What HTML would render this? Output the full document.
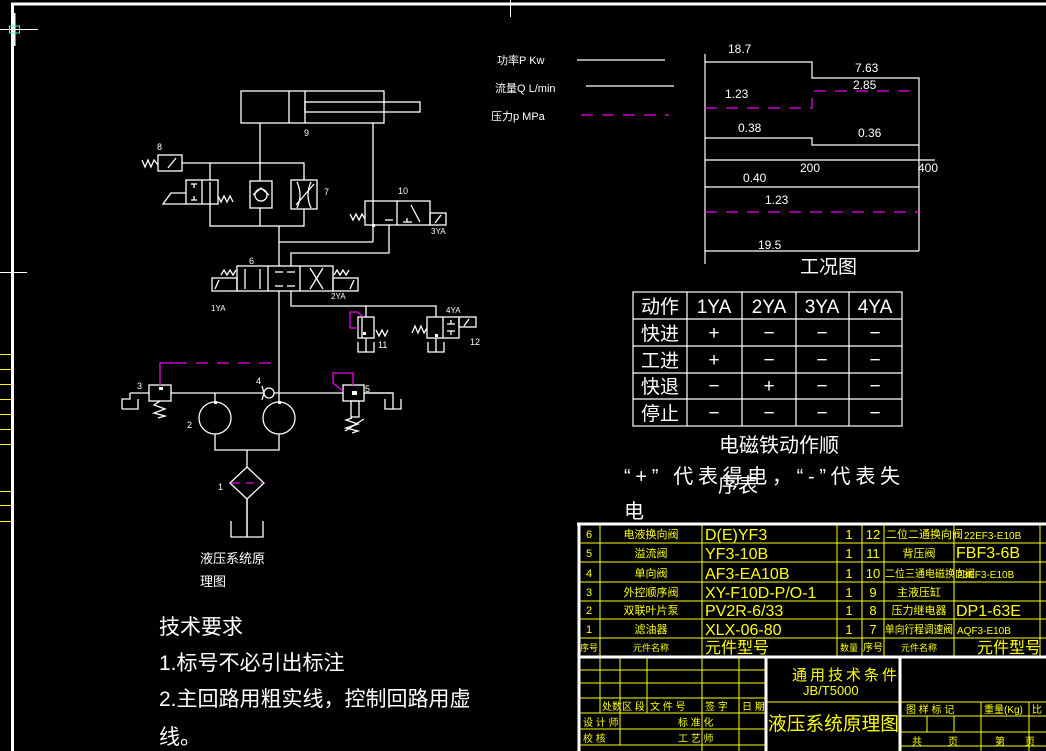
<!DOCTYPE html>
<html><head><meta charset="utf-8"><style>
html,body{margin:0;padding:0;background:#000;}
svg{display:block}
text{font-family:"Liberation Sans","Noto Sans CJK SC",sans-serif;}
</style></head><body>
<svg width="1046" height="751" viewBox="0 0 1046 751" xmlns="http://www.w3.org/2000/svg">
<rect width="1046" height="751" fill="#000"/>
<g stroke="#fff" fill="none">
<line x1="11" y1="4" x2="1046" y2="4" stroke-width="3"/>
<line x1="12.5" y1="3" x2="12.5" y2="751" stroke-width="3"/>
<line x1="14.5" y1="13" x2="14.5" y2="46" stroke-width="2"/>
<line x1="0" y1="29.5" x2="38" y2="29.5" stroke-width="1"/>
<line x1="0" y1="272.5" x2="27" y2="272.5" stroke-width="1"/>
<line x1="510.5" y1="0" x2="510.5" y2="17" stroke-width="1"/>
</g>
<rect x="9.5" y="26" width="10" height="7" fill="none" stroke="#3f9" stroke-width="1"/>
<g stroke="#ff0" stroke-width="1">
<line x1="0" y1="354.5" x2="11" y2="354.5"/><line x1="0" y1="369.5" x2="11" y2="369.5"/>
<line x1="0" y1="384.5" x2="11" y2="384.5"/><line x1="0" y1="399.5" x2="11" y2="399.5"/>
<line x1="0" y1="414.5" x2="11" y2="414.5"/><line x1="0" y1="429.5" x2="11" y2="429.5"/>
<line x1="0" y1="444.5" x2="11" y2="444.5"/><line x1="0" y1="491.5" x2="11" y2="491.5"/>
<line x1="0" y1="505.5" x2="11" y2="505.5"/><line x1="0" y1="521.5" x2="11" y2="521.5"/>
</g>

<g stroke="#fff" stroke-width="1.3" fill="none">
<rect x="241" y="91" width="143" height="32"/>
<line x1="289" y1="91" x2="289" y2="123"/><line x1="305" y1="91" x2="305" y2="123"/>
<rect x="305" y="102" width="115" height="10"/>
<line x1="260" y1="123" x2="260" y2="163"/>
<line x1="373" y1="123" x2="373" y2="242"/>
<rect x="210" y="163" width="94" height="63"/>
<line x1="260" y1="163" x2="260" y2="226"/>
<rect x="250" y="181" width="22" height="27" fill="#000"/>
<circle cx="261" cy="195" r="6"/>
<polyline points="253,195 261,188 269,195"/>
<rect x="291" y="180" width="26" height="29" fill="#000"/>
<path d="M297 182 Q303 195 297 208 M311 182 Q305 195 311 208 M296 205 L314 184"/>
<rect x="158" y="155" width="24" height="16"/>
<line x1="182" y1="163" x2="210" y2="163"/>
<line x1="168" y1="168" x2="176" y2="158"/>
<polyline points="142,160 145,167 148,160 151,167 154,160 158,165"/>
<rect x="186" y="180" width="32" height="24" fill="#000"/>
<line x1="202" y1="180" x2="202" y2="204"/>
<line x1="210" y1="182" x2="210" y2="204"/>
<line x1="194" y1="184" x2="194" y2="188"/><line x1="191" y1="184" x2="197" y2="184"/>
<line x1="194" y1="196" x2="194" y2="200"/><line x1="191" y1="200" x2="197" y2="200"/>
<polyline points="186,193 171,193 163,204 186,204"/>
<polyline points="218,196 221,202 224,196 227,202 230,196 233,202"/>
<line x1="279" y1="226" x2="279" y2="266"/>
<line x1="279" y1="242" x2="373" y2="242"/>
<polyline points="389,225 389,253 291,253 291,266"/>
<rect x="365" y="201" width="65" height="24"/>
<line x1="397" y1="201" x2="397" y2="225"/>
<rect x="430" y="213" width="16" height="12"/>
<line x1="435" y1="223" x2="441" y2="215"/>
<line x1="385" y1="220" x2="393" y2="220"/>
<line x1="403" y1="222" x2="412" y2="222"/><line x1="407" y1="218" x2="407" y2="222"/>
<line x1="411" y1="205" x2="420" y2="222"/>
<polyline points="350,214 353,220 356,214 359,220 362,214 365,219"/>
<rect x="237" y="266" width="96" height="25"/>
<line x1="268" y1="266" x2="268" y2="291"/><line x1="300" y1="266" x2="300" y2="291"/>
<rect x="212" y="278" width="25" height="13"/><rect x="333" y="278" width="25" height="13"/>
<line x1="245" y1="269" x2="245" y2="289"/><line x1="260" y1="269" x2="260" y2="289"/>
<line x1="275" y1="272" x2="283" y2="272"/><line x1="287" y1="272" x2="295" y2="272"/>
<line x1="275" y1="286" x2="283" y2="286"/><line x1="287" y1="286" x2="295" y2="286"/>
<line x1="310" y1="268" x2="323" y2="289"/><line x1="323" y1="268" x2="310" y2="289"/>
<line x1="215" y1="289" x2="219" y2="280"/><line x1="350" y1="289" x2="354" y2="280"/>
<polyline points="221,275 224,270 227,275 230,270 233,275 236,270"/>
<polyline points="334,275 337,270 340,275 343,270 346,275 349,270"/>
<line x1="279" y1="291" x2="279" y2="402"/>
<polyline points="291,291 291,306 436,306 436,317"/>
<line x1="366" y1="306" x2="366" y2="317"/>
<rect x="358" y="317" width="16" height="21"/>
<line x1="362" y1="317" x2="362" y2="338"/>
<polyline points="376,330 379,336 382,330 385,336 388,330"/>
<line x1="366" y1="338" x2="366" y2="352"/>
<polyline points="358,342 358,352 374,352 374,342"/>
<rect x="427" y="317" width="32" height="21"/>
<line x1="443" y1="317" x2="443" y2="338"/>
<line x1="451" y1="320" x2="451" y2="324"/><line x1="447" y1="324" x2="455" y2="324"/>
<line x1="451" y1="331" x2="451" y2="335"/><line x1="447" y1="331" x2="455" y2="331"/>
<rect x="459" y="317" width="17" height="10"/>
<line x1="464" y1="326" x2="469" y2="319"/>
<polyline points="412,333 415,326 418,333 421,326 424,333 427,328"/>
<line x1="436" y1="338" x2="436" y2="352"/>
<polyline points="428,342 428,352 444,352 444,342"/>
<line x1="130" y1="393" x2="393" y2="393"/>
<polyline points="122,409 122,399 130,399 130,393"/>
<polyline points="122,409 138,409 138,399"/>
<rect x="149" y="385" width="22" height="16" fill="#000"/>
<polyline points="160,401 154,405 165,409 154,413 165,416 158,418"/>
<line x1="215" y1="393" x2="215" y2="402"/>
<circle cx="215" cy="418" r="16"/>
<circle cx="279" cy="418" r="16"/>
<polyline points="215,434 215,450 279,450 279,434"/>
<line x1="247" y1="450" x2="247" y2="537"/>
<polygon points="247,467 264,483 247,499 230,483" fill="#000"/>
<polyline points="231,521 231,537 263,537 263,521"/>
<line x1="247" y1="499" x2="247" y2="537"/>
<circle cx="269" cy="393" r="5" fill="#000"/>
<polyline points="262,386 264,393 262,400"/>
<rect x="343" y="385" width="21" height="16" fill="#000"/>
<polyline points="364,393 393,393 393,409"/>
<polyline points="385,399 385,409 401,409 401,399"/>
<rect x="351" y="401" width="8" height="16"/>
<polyline points="352,418 346,420 358,424 346,428 358,431 352,433"/>
<line x1="345" y1="431" x2="364" y2="419"/>
</g>
<g fill="#fff">
<rect x="159" y="387" width="4" height="3"/><rect x="352" y="391" width="5" height="4"/>
<rect x="214" y="401" width="3" height="3"/><rect x="278" y="401" width="3" height="3"/>
<rect x="372" y="224" width="3" height="3"/><rect x="435" y="334" width="3" height="3"/>
<rect x="363" y="332" width="3" height="3"/>
</g>
<g stroke="#e0e" stroke-width="1.3" fill="none">
<polyline points="160,385 160,363 175,363"/>
<line x1="175" y1="363" x2="280" y2="363" stroke-dasharray="12,9"/>
<polyline points="343,391 333,383 333,373 353,373 353,385"/>
<polyline points="358,328 350,328 350,312 358,312 363,317"/>
<line x1="232" y1="483" x2="262" y2="483" stroke-dasharray="8,6"/>
</g>
<g fill="#fff" font-size="9">
<text x="304" y="136">9</text><text x="157" y="150">8</text><text x="324" y="195">7</text>
<text x="398" y="194">10</text><text x="431" y="234" font-size="8">3YA</text>
<text x="249" y="264">6</text><text x="211" y="311" font-size="8">1YA</text>
<text x="331" y="299" font-size="8">2YA</text>
<text x="378" y="348">11</text><text x="446" y="313" font-size="8">4YA</text><text x="470" y="345">12</text>
<text x="137" y="389">3</text><text x="256" y="384">4</text><text x="365" y="392">5</text>
<text x="187" y="428">2</text><text x="218" y="490">1</text>
<text x="200" y="563" font-size="13">液压系统原</text>
<text x="200" y="586" font-size="13">理图</text>
</g>
<g fill="#fff" font-size="21">
<text x="159" y="634">技术要求</text>
<text x="159" y="670">1.标号不必引出标注</text>
<text x="159" y="706">2.主回路用粗实线，控制回路用虚</text>
<text x="159" y="744">线。</text>
</g>

<g fill="#fff" font-size="12">
<text x="497" y="64" font-size="11">功率P  Kw</text>
<text x="495" y="92" font-size="11">流量Q  L/min</text>
<text x="491" y="120" font-size="11">压力p  MPa</text>
<text x="728" y="53">18.7</text><text x="855" y="72">7.63</text><text x="853" y="89">2.85</text>
<text x="725" y="98">1.23</text><text x="738" y="132">0.38</text><text x="858" y="137">0.36</text>
<text x="800" y="172">200</text><text x="918" y="172">400</text>
<text x="743" y="182">0.40</text><text x="765" y="204">1.23</text><text x="758" y="249">19.5</text>
<text x="800" y="273" font-size="19">工况图</text>
</g>
<g stroke="#fff" stroke-width="1.2" fill="none">
<line x1="577" y1="60" x2="665" y2="60"/>
<line x1="586" y1="86" x2="674" y2="86"/>
<line x1="705" y1="54" x2="705" y2="264"/>
<polyline points="705,62 812,62 812,78 919,78 919,251"/>
<polyline points="705,138 812,138 812,145 919,145"/>
<line x1="705" y1="160" x2="935" y2="160"/>
<line x1="705" y1="187" x2="919" y2="187"/>
<line x1="705" y1="251" x2="919" y2="251"/>
</g>
<g stroke="#e0e" stroke-width="1.3" fill="none" stroke-dasharray="12,9">
<line x1="581" y1="115" x2="669" y2="115"/>
<polyline points="705,108 812,108 812,91 919,91"/>
<line x1="705" y1="212" x2="919" y2="212"/>
</g>

<g stroke="#fff" stroke-width="1.2" fill="none">
<rect x="633" y="292" width="269" height="134"/>
<line x1="687" y1="292" x2="687" y2="426"/><line x1="742" y1="292" x2="742" y2="426"/>
<line x1="796" y1="292" x2="796" y2="426"/><line x1="849" y1="292" x2="849" y2="426"/>
<line x1="633" y1="319" x2="902" y2="319"/><line x1="633" y1="346" x2="902" y2="346"/>
<line x1="633" y1="373" x2="902" y2="373"/><line x1="633" y1="399" x2="902" y2="399"/>
</g>
<g fill="#fff" font-size="19" text-anchor="middle">
<text x="660" y="313">动作</text><text x="714" y="313">1YA</text><text x="769" y="313">2YA</text><text x="822" y="313">3YA</text><text x="875" y="313">4YA</text>
<text x="660" y="340">快进</text><text x="714" y="339">+</text><text x="769" y="339">−</text><text x="822" y="339">−</text><text x="875" y="339">−</text>
<text x="660" y="367">工进</text><text x="714" y="366">+</text><text x="769" y="366">−</text><text x="822" y="366">−</text><text x="875" y="366">−</text>
<text x="660" y="393">快退</text><text x="714" y="392">−</text><text x="769" y="392">+</text><text x="822" y="392">−</text><text x="875" y="392">−</text>
<text x="660" y="420">停止</text><text x="714" y="419">−</text><text x="769" y="419">−</text><text x="822" y="419">−</text><text x="875" y="419">−</text>
</g>
<g fill="#fff" font-size="20">
<text x="719" y="452">电磁铁动作顺</text>
<text x="624" y="483" textLength="276" lengthAdjust="spacing">“+” 代表得电，“-”代表失</text>
<text x="718" y="492">序表</text>
<text x="624" y="518">电</text>
</g>

<g stroke="#ff0" stroke-width="1" fill="none">
<line x1="579" y1="543" x2="1046" y2="543"/><line x1="579" y1="562" x2="1046" y2="562"/>
<line x1="579" y1="582" x2="1046" y2="582"/><line x1="579" y1="601" x2="1046" y2="601"/>
<line x1="579" y1="619" x2="1046" y2="619"/><line x1="579" y1="638" x2="1046" y2="638"/>
<line x1="600" y1="524" x2="600" y2="656"/><line x1="702" y1="524" x2="702" y2="656"/>
<line x1="837" y1="524" x2="837" y2="656"/><line x1="862" y1="524" x2="862" y2="656"/>
<line x1="884" y1="524" x2="884" y2="656"/><line x1="954" y1="524" x2="954" y2="656"/>
<line x1="1040" y1="524" x2="1040" y2="656"/>
<line x1="579" y1="670" x2="766" y2="670"/><line x1="579" y1="683" x2="766" y2="683"/>
<line x1="579" y1="698" x2="766" y2="698"/><line x1="579" y1="713" x2="766" y2="713"/>
<line x1="579" y1="729" x2="766" y2="729"/><line x1="579" y1="745" x2="766" y2="745"/>
<line x1="600" y1="656" x2="600" y2="713"/><line x1="620" y1="656" x2="620" y2="745"/>
<line x1="647" y1="656" x2="647" y2="713"/><line x1="702" y1="656" x2="702" y2="751"/>
<line x1="739" y1="656" x2="739" y2="751"/>
<line x1="766" y1="702" x2="900" y2="702"/>
<line x1="900" y1="702" x2="1046" y2="702"/><line x1="900" y1="716" x2="1046" y2="716"/>
<line x1="900" y1="732" x2="1046" y2="732"/><line x1="900" y1="746" x2="1046" y2="746"/>
<line x1="927" y1="716" x2="927" y2="732"/><line x1="954" y1="716" x2="954" y2="732"/>
<line x1="981" y1="702" x2="981" y2="751"/><line x1="1029" y1="702" x2="1029" y2="751"/>
</g>
<g stroke="#fff" stroke-width="3" fill="none">
<line x1="577" y1="524" x2="1046" y2="524"/>
<line x1="579" y1="524" x2="579" y2="751"/>
<line x1="579" y1="657" x2="1046" y2="657"/>
<line x1="766" y1="657" x2="766" y2="751"/>
<line x1="900" y1="657" x2="900" y2="751"/>
</g>
<g fill="#ff0" font-size="11">
<g text-anchor="middle">
<text x="589" y="538">6</text><text x="589" y="557">5</text><text x="589" y="577">4</text><text x="589" y="596">3</text><text x="589" y="614">2</text><text x="589" y="633">1</text>
<text x="589" y="651" font-size="9">序号</text>
<text x="651" y="538">电液换向阀</text><text x="651" y="557">溢流阀</text><text x="651" y="577">单向阀</text><text x="651" y="596">外控顺序阀</text><text x="651" y="614">双联叶片泵</text><text x="651" y="633">滤油器</text>
<text x="651" y="651" font-size="9">元件名称</text>
<text x="849" y="539" font-size="13">1</text><text x="849" y="558" font-size="13">1</text><text x="849" y="578" font-size="13">1</text><text x="849" y="597" font-size="13">1</text><text x="849" y="615" font-size="13">1</text><text x="849" y="634" font-size="13">1</text>
<text x="849" y="651" font-size="9">数量</text>
<text x="873" y="539" font-size="13">12</text><text x="873" y="558" font-size="13">11</text><text x="873" y="578" font-size="13">10</text><text x="873" y="597" font-size="13">9</text><text x="873" y="615" font-size="13">8</text><text x="873" y="634" font-size="13">7</text>
<text x="873" y="651" font-size="10">序号</text>
<text x="919" y="557">背压阀</text><text x="919" y="596">主液压缸</text><text x="919" y="614">压力继电器</text>
<text x="919" y="651" font-size="9">元件名称</text>
</g>
<text x="886" y="538" font-size="11">二位二通换向阀</text>
<text x="885" y="577" font-size="10.5" textLength="90" lengthAdjust="spacingAndGlyphs">二位三通电磁换向阀</text>
<text x="885" y="633" font-size="11" textLength="68" lengthAdjust="spacingAndGlyphs">单向行程调速阀</text>
<g font-size="16">
<text x="705" y="540">D(E)YF3</text><text x="705" y="559">YF3-10B</text><text x="705" y="579">AF3-EA10B</text>
<text x="705" y="598">XY-F10D-P/O-1</text><text x="705" y="616">PV2R-6/33</text><text x="705" y="635">XLX-06-80</text>
<text x="705" y="653">元件型号</text>
<text x="956" y="558">FBF3-6B</text><text x="956" y="616">DP1-63E</text><text x="977" y="653">元件型号</text>
</g>
<text x="964" y="539" font-size="10">22EF3-E10B</text>
<text x="957" y="578" font-size="10">23EF3-E10B</text>
<text x="957" y="634" font-size="10">AQF3-E10B</text>
<g font-size="10">
<text x="602" y="710">处数</text><text x="622" y="710">区 段</text><text x="650" y="710">文  件  号</text>
<text x="705" y="710">签 字</text><text x="742" y="710">日 期</text>
<text x="583" y="726">设 计 师</text><text x="678" y="726">标 准 化</text>
<text x="583" y="742">校   核</text><text x="678" y="742">工 艺 师</text>
<text x="906" y="713">图  样  标  记</text><text x="984" y="713">重量(Kg)</text><text x="1032" y="713">比</text>
<text x="912" y="745">共</text><text x="948" y="745">页</text><text x="995" y="745">第</text><text x="1025" y="745">页</text>
</g>
<text x="792" y="680" font-size="15" letter-spacing="3">通用技术条件</text>
<text x="803" y="695" font-size="13">JB/T5000</text>
<text x="768" y="730" font-size="19" textLength="131" lengthAdjust="spacingAndGlyphs">液压系统原理图</text>
</g>
</svg>
</body></html>
